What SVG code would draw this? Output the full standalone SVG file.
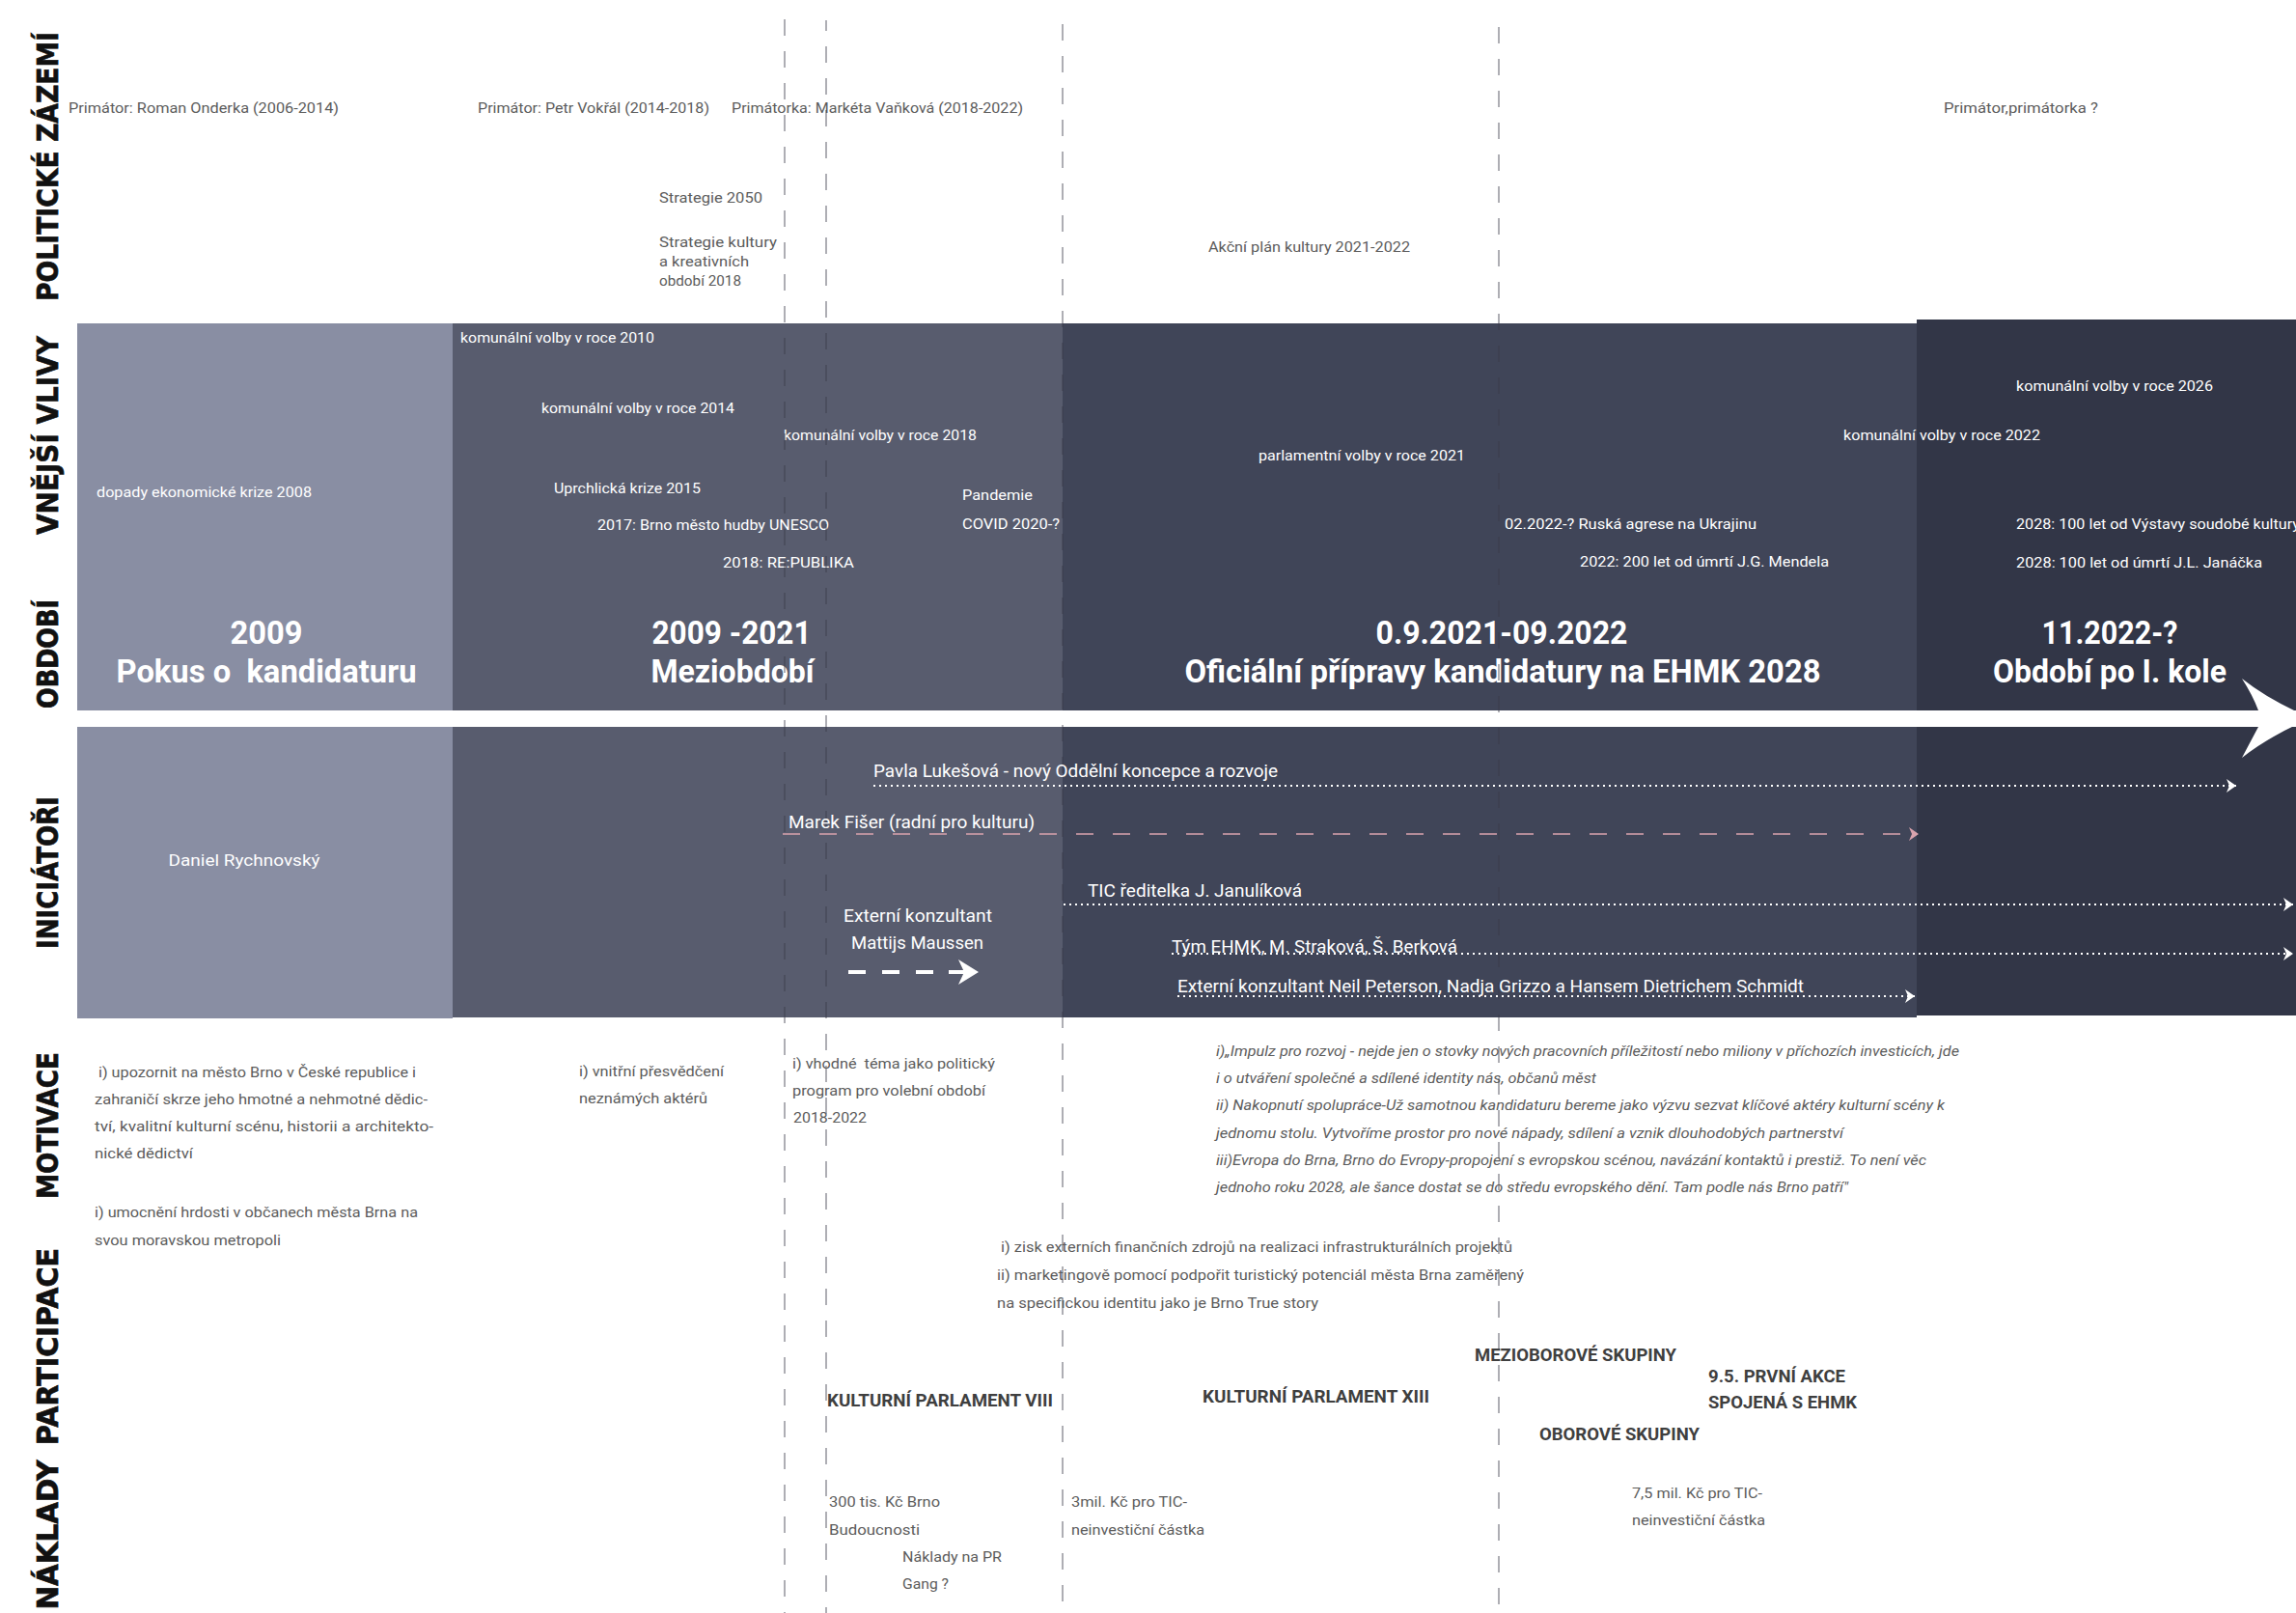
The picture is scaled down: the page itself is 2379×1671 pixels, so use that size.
<svg xmlns="http://www.w3.org/2000/svg" width="2379" height="1671" viewBox="0 0 2379 1671">
<style>
.lab{font-family:"DejaVu Sans","Liberation Sans",Arial,sans-serif;font-weight:700;font-size:31px;fill:#111;stroke:#111;stroke-width:0.7;text-anchor:middle}
.t{font-family:Roboto,"Liberation Sans",sans-serif;font-size:15px;fill:#5c5c5c}
.w{font-family:Roboto,"Liberation Sans",sans-serif;font-size:15px;fill:#fff}
.n{font-family:Roboto,"Liberation Sans",sans-serif;font-size:18px;fill:#fff}
.h{font-family:Roboto,"Liberation Sans",sans-serif;font-weight:700;font-size:33px;fill:#fff;text-anchor:middle}
.it{font-family:Roboto,"Liberation Sans",sans-serif;font-style:italic;font-size:14.5px;fill:#5c5c5c}
.b{font-family:Roboto,"Liberation Sans",sans-serif;font-weight:700;font-size:18.5px;fill:#3f3f3f}
.vl{stroke:#3a3d4a;stroke-opacity:.55;stroke-width:1.5;stroke-dasharray:17 16;fill:none}
.dot{stroke:#fff;stroke-width:2;stroke-dasharray:2 4;fill:none}
</style>
<defs>
<marker id="mw" markerUnits="userSpaceOnUse" markerWidth="12" markerHeight="14" refX="10" refY="7" orient="auto"><path d="M0,0 L10,7 L0,14 L3,7 Z" fill="#fff"/></marker>
<marker id="mp" markerUnits="userSpaceOnUse" markerWidth="12" markerHeight="14" refX="10" refY="7" orient="auto"><path d="M0,0 L10,7 L0,14 L3,7 Z" fill="#d9a3ad"/></marker>
</defs>
<rect width="2379" height="1671" fill="#fff"/>
<g id="bands">
<rect x="80" y="335" width="389" height="401" fill="#898ea3"/>
<rect x="469" y="335" width="632" height="401" fill="#585c6e"/>
<rect x="1101" y="335" width="885" height="401" fill="#404558"/>
<rect x="1986" y="331" width="393" height="405" fill="#323647"/>
<rect x="80" y="753" width="389" height="302" fill="#898ea3"/>
<rect x="469" y="753" width="632" height="301" fill="#585c6e"/>
<rect x="1101" y="753" width="885" height="301" fill="#404558"/>
<rect x="1986" y="753" width="393" height="299" fill="#323647"/>
<path id="timeline-arrow" d="M2323,703 Q2352,726 2395,744 Q2352,762 2323,785 Q2332,768 2340,753 L2340,736 Q2334,720 2323,703 Z" fill="#fff"/>
</g>
<g id="section-labels">
<text class="lab" transform="translate(60,172.5) rotate(-90)" textLength="279" lengthAdjust="spacingAndGlyphs">POLITICKÉ ZÁZEMÍ</text>
<text class="lab" transform="translate(60,451) rotate(-90)" textLength="206" lengthAdjust="spacingAndGlyphs">VNĚJŠÍ VLIVY</text>
<text class="lab" transform="translate(60,677.5) rotate(-90)" textLength="113" lengthAdjust="spacingAndGlyphs">OBDOBÍ</text>
<text class="lab" transform="translate(60,904) rotate(-90)" textLength="158" lengthAdjust="spacingAndGlyphs">INICIÁTOŘI</text>
<text class="lab" transform="translate(60,1166) rotate(-90)" textLength="152" lengthAdjust="spacingAndGlyphs">MOTIVACE</text>
<text class="lab" transform="translate(60,1395) rotate(-90)" textLength="204" lengthAdjust="spacingAndGlyphs">PARTICIPACE</text>
<text class="lab" transform="translate(60,1590) rotate(-90)" textLength="155" lengthAdjust="spacingAndGlyphs">NÁKLADY</text>
</g>
<g id="politics">
<g id="p-onderka"><text class="t" x="71" y="117" textLength="280" lengthAdjust="spacingAndGlyphs">Primátor: Roman Onderka (2006-2014)</text></g>
<g id="p-vokral"><text class="t" x="495" y="117" textLength="240" lengthAdjust="spacingAndGlyphs">Primátor: Petr Vokřál (2014-2018)</text></g>
<g id="p-vankova"><text class="t" x="758" y="117" textLength="302" lengthAdjust="spacingAndGlyphs">Primátorka: Markéta Vaňková (2018-2022)</text></g>
<g id="p-future"><text class="t" x="2014" y="117" textLength="160" lengthAdjust="spacingAndGlyphs">Primátor,primátorka ?</text></g>
<g id="p-strategie2050"><text class="t" x="683" y="210" textLength="107" lengthAdjust="spacingAndGlyphs">Strategie 2050</text></g>
<g id="p-strategie-kultury"><text class="t" x="683" y="256" textLength="122" lengthAdjust="spacingAndGlyphs">Strategie kultury</text><text class="t" x="683" y="276" textLength="93" lengthAdjust="spacingAndGlyphs">a kreativních</text><text class="t" x="683" y="296" textLength="85" lengthAdjust="spacingAndGlyphs">období 2018</text></g>
<g id="p-akcni-plan"><text class="t" x="1252" y="261" textLength="209" lengthAdjust="spacingAndGlyphs">Akční plán kultury 2021-2022</text></g>
</g>
<g id="influences">
<g id="e-kv2010"><text class="w" x="477" y="355" textLength="201" lengthAdjust="spacingAndGlyphs">komunální volby v roce 2010</text></g>
<g id="e-kv2014"><text class="w" x="561" y="428" textLength="200" lengthAdjust="spacingAndGlyphs">komunální volby v roce 2014</text></g>
<g id="e-kv2018"><text class="w" x="812" y="456" textLength="200" lengthAdjust="spacingAndGlyphs">komunální volby v roce 2018</text></g>
<g id="e-krize2008"><text class="w" x="100" y="515" textLength="223" lengthAdjust="spacingAndGlyphs">dopady ekonomické krize 2008</text></g>
<g id="e-uprchlici"><text class="w" x="574" y="511" textLength="152" lengthAdjust="spacingAndGlyphs">Uprchlická krize 2015</text></g>
<g id="e-covid"><text class="w" x="997" y="518" textLength="73" lengthAdjust="spacingAndGlyphs">Pandemie</text><text class="w" x="997" y="548" textLength="101" lengthAdjust="spacingAndGlyphs">COVID 2020-?</text></g>
<g id="e-unesco"><text class="w" x="619" y="549" textLength="240" lengthAdjust="spacingAndGlyphs">2017: Brno město hudby UNESCO</text></g>
<g id="e-republika"><text class="w" x="749" y="588" textLength="136" lengthAdjust="spacingAndGlyphs">2018: RE:PUBLIKA</text></g>
<g id="e-kv2026"><text class="w" x="2089" y="405" textLength="204" lengthAdjust="spacingAndGlyphs">komunální volby v roce 2026</text></g>
<g id="e-kv2022"><text class="w" x="1910" y="456" textLength="204" lengthAdjust="spacingAndGlyphs">komunální volby v roce 2022</text></g>
<g id="e-pv2021"><text class="w" x="1304" y="477" textLength="214" lengthAdjust="spacingAndGlyphs">parlamentní volby v roce 2021</text></g>
<g id="e-ukrajina"><text class="w" x="1559" y="548" textLength="261" lengthAdjust="spacingAndGlyphs">02.2022-? Ruská agrese na Ukrajinu</text></g>
<g id="e-mendel"><text class="w" x="1637" y="587" textLength="258" lengthAdjust="spacingAndGlyphs">2022: 200 let od úmrtí J.G. Mendela</text></g>
<g id="e-vystava"><text class="w" x="2089" y="548" textLength="294" lengthAdjust="spacingAndGlyphs">2028: 100 let od Výstavy soudobé kultury</text></g>
<g id="e-janacek"><text class="w" x="2089" y="588" textLength="255" lengthAdjust="spacingAndGlyphs">2028: 100 let od úmrtí J.L. Janáčka</text></g>
</g>
<g id="periods">
<g id="period-1"><text class="h" x="276" y="667" textLength="75" lengthAdjust="spacingAndGlyphs">2009</text><text class="h" x="276" y="707" xml:space="preserve" textLength="311" lengthAdjust="spacingAndGlyphs">Pokus o  kandidaturu</text></g>
<g id="period-2"><text class="h" x="758" y="667" textLength="165" lengthAdjust="spacingAndGlyphs">2009 -2021</text><text class="h" x="759" y="707" textLength="169" lengthAdjust="spacingAndGlyphs">Meziobdobí</text></g>
<g id="period-3"><text class="h" x="1556" y="667" textLength="261" lengthAdjust="spacingAndGlyphs">0.9.2021-09.2022</text><text class="h" x="1557" y="707" textLength="659" lengthAdjust="spacingAndGlyphs">Oficiální přípravy kandidatury na EHMK 2028</text></g>
<g id="period-4"><text class="h" x="2186" y="667" textLength="141" lengthAdjust="spacingAndGlyphs">11.2022-?</text><text class="h" x="2186" y="707" textLength="242" lengthAdjust="spacingAndGlyphs">Období po I. kole</text></g>
</g>
<g id="guides">
<line class="vl" x1="813" y1="20" x2="813" y2="1671"/>
<line class="vl" x1="856" y1="21" x2="856" y2="1671" stroke-dashoffset="6"/>
<line class="vl" x1="1101" y1="25" x2="1101" y2="1671"/>
<line class="vl" x1="1553" y1="28" x2="1553" y2="1671"/>
</g>
<g id="connectors">
<line class="dot" x1="905" y1="814" x2="2317" y2="814" marker-end="url(#mw)"/>
<line x1="811" y1="864" x2="1988" y2="864" stroke="#d9a3ad" stroke-width="1.5" stroke-dasharray="18 20" marker-end="url(#mp)"/>
<line class="dot" x1="1102" y1="937" x2="2376" y2="937" marker-end="url(#mw)"/>
<line class="dot" x1="1214" y1="988" x2="2376" y2="988" marker-end="url(#mw)"/>
<line class="dot" x1="1220" y1="1032" x2="1984" y2="1032" marker-end="url(#mw)"/>
<line x1="879" y1="1007" x2="967" y2="1007" stroke="#fff" stroke-width="4" stroke-dasharray="18 17"/>
<line x1="983" y1="1007" x2="1004" y2="1007" stroke="#fff" stroke-width="4"/>
<path d="M993,994 L1014,1007 L993,1020 L999,1007 Z" fill="#fff"/>
</g>
<g id="initiators">
<g id="i-rychnovsky"><text class="w" x="174.5" y="897" style="font-size:16px" textLength="157" lengthAdjust="spacingAndGlyphs">Daniel Rychnovský</text></g>
<g id="i-lukesova"><text class="n" x="905" y="805" textLength="419" lengthAdjust="spacingAndGlyphs">Pavla Lukešová - nový Oddělní koncepce a rozvoje</text></g>
<g id="i-fiser"><text class="n" x="817" y="858" textLength="255" lengthAdjust="spacingAndGlyphs">Marek Fišer (radní pro kulturu)</text></g>
<g id="i-tic"><text class="n" x="1127" y="929" textLength="222" lengthAdjust="spacingAndGlyphs">TIC ředitelka J. Janulíková</text></g>
<g id="i-maussen"><text class="n" x="874" y="955" textLength="154" lengthAdjust="spacingAndGlyphs">Externí konzultant</text><text class="n" x="882" y="983" textLength="137" lengthAdjust="spacingAndGlyphs">Mattijs Maussen</text></g>
<g id="i-tym"><text class="n" x="1214" y="987" textLength="296" lengthAdjust="spacingAndGlyphs">Tým EHMK, M. Straková, Š. Berková</text></g>
<g id="i-peterson"><text class="n" x="1220" y="1028" textLength="649" lengthAdjust="spacingAndGlyphs">Externí konzultant Neil Peterson, Nadja Grizzo a Hansem Dietrichem Schmidt</text></g>
</g>
<g id="motivation">
<g id="m-1"><text class="t" x="102" y="1116" textLength="329" lengthAdjust="spacingAndGlyphs">i) upozornit na město Brno v České republice i</text><text class="t" x="98" y="1144" textLength="345" lengthAdjust="spacingAndGlyphs">zahraničí skrze jeho hmotné a nehmotné dědic-</text><text class="t" x="98" y="1172" textLength="351" lengthAdjust="spacingAndGlyphs">tví, kvalitní kulturní scénu, historii a architekto-</text><text class="t" x="98" y="1200" textLength="102" lengthAdjust="spacingAndGlyphs">nické dědictví</text><text class="t" x="98" y="1261" textLength="335" lengthAdjust="spacingAndGlyphs">i) umocnění hrdosti v občanech města Brna na</text><text class="t" x="98" y="1290" textLength="193" lengthAdjust="spacingAndGlyphs">svou moravskou metropoli</text></g>
<g id="m-2"><text class="t" x="600" y="1115" textLength="150" lengthAdjust="spacingAndGlyphs">i) vnitřní přesvědčení</text><text class="t" x="600" y="1143" textLength="133" lengthAdjust="spacingAndGlyphs">neznámých aktérů</text></g>
<g id="m-3"><text class="t" x="821" y="1107" xml:space="preserve" textLength="210" lengthAdjust="spacingAndGlyphs">i) vhodné  téma jako politický</text><text class="t" x="821" y="1135" textLength="200" lengthAdjust="spacingAndGlyphs">program pro volební období</text><text class="t" x="822" y="1163" textLength="76" lengthAdjust="spacingAndGlyphs">2018-2022</text></g>
<g id="m-4">
<text class="it" x="1260" y="1094" textLength="770" lengthAdjust="spacingAndGlyphs">i)„Impulz pro rozvoj - nejde jen o stovky nových pracovních příležitostí nebo miliony v příchozích investicích, jde</text>
<text class="it" x="1260" y="1122" textLength="394" lengthAdjust="spacingAndGlyphs">i o utváření společné a sdílené identity nás, občanů měst</text>
<text class="it" x="1260" y="1150" textLength="755" lengthAdjust="spacingAndGlyphs">ii) Nakopnutí spolupráce-Už samotnou kandidaturu bereme jako výzvu sezvat klíčové aktéry kulturní scény k</text>
<text class="it" x="1260" y="1179" textLength="650" lengthAdjust="spacingAndGlyphs">jednomu stolu. Vytvoříme prostor pro nové nápady, sdílení a vznik dlouhodobých partnerství</text>
<text class="it" x="1260" y="1207" textLength="736" lengthAdjust="spacingAndGlyphs">iii)Evropa do Brna, Brno do Evropy-propojení s evropskou scénou, navázání kontaktů i prestiž. To není věc</text>
<text class="it" x="1260" y="1235" textLength="655" lengthAdjust="spacingAndGlyphs">jednoho roku 2028, ale šance dostat se do středu evropského dění. Tam podle nás Brno patří"</text>
</g>
</g>
<g id="participation">
<g id="pa-tic"><text class="t" x="1037" y="1297" textLength="530" lengthAdjust="spacingAndGlyphs">i) zisk externích finančních zdrojů na realizaci infrastrukturálních projektů</text><text class="t" x="1033" y="1326" textLength="546" lengthAdjust="spacingAndGlyphs">ii) marketingově pomocí podpořit turistický potenciál města Brna zaměřený</text><text class="t" x="1033" y="1355" textLength="333" lengthAdjust="spacingAndGlyphs">na specifickou identitu jako je Brno True story</text></g>
<g id="pa-kp8"><text class="b" x="857" y="1457" textLength="234" lengthAdjust="spacingAndGlyphs">KULTURNÍ PARLAMENT VIII</text></g>
<g id="pa-kp13"><text class="b" x="1246" y="1453" textLength="235" lengthAdjust="spacingAndGlyphs">KULTURNÍ PARLAMENT XIII</text></g>
<g id="pa-mezioborove"><text class="b" x="1528" y="1410" textLength="209" lengthAdjust="spacingAndGlyphs">MEZIOBOROVÉ SKUPINY</text></g>
<g id="pa-akce"><text class="b" x="1770" y="1432" textLength="142" lengthAdjust="spacingAndGlyphs">9.5. PRVNÍ AKCE</text><text class="b" x="1770" y="1459" textLength="154" lengthAdjust="spacingAndGlyphs">SPOJENÁ S EHMK</text></g>
<g id="pa-oborove"><text class="b" x="1595" y="1492" textLength="166" lengthAdjust="spacingAndGlyphs">OBOROVÉ SKUPINY</text></g>
</g>
<g id="costs">
<g id="c-300"><text class="t" x="859" y="1561" textLength="115" lengthAdjust="spacingAndGlyphs">300 tis. Kč Brno</text><text class="t" x="859" y="1590" textLength="94" lengthAdjust="spacingAndGlyphs">Budoucnosti</text></g>
<g id="c-pr"><text class="t" x="935" y="1618" textLength="103" lengthAdjust="spacingAndGlyphs">Náklady na PR</text><text class="t" x="935" y="1646" textLength="48" lengthAdjust="spacingAndGlyphs">Gang ?</text></g>
<g id="c-3mil"><text class="t" x="1110" y="1561" textLength="120" lengthAdjust="spacingAndGlyphs">3mil. Kč pro TIC-</text><text class="t" x="1110" y="1590" textLength="138" lengthAdjust="spacingAndGlyphs">neinvestiční částka</text></g>
<g id="c-75mil"><text class="t" x="1691" y="1552" textLength="135" lengthAdjust="spacingAndGlyphs">7,5 mil. Kč pro TIC-</text><text class="t" x="1691" y="1580" textLength="138" lengthAdjust="spacingAndGlyphs">neinvestiční částka</text></g>
</g>
</svg>
